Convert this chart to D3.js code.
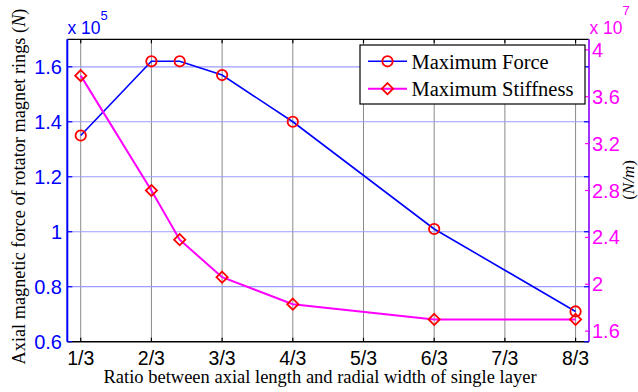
<!DOCTYPE html>
<html>
<head>
<meta charset="utf-8">
<script src="https://cdn.jsdelivr.net/npm/d3@7"></script>
<style>
  html, body { margin: 0; padding: 0; background: #fff; }
  svg { display: block; }
</style>
</head>
<body>
<div id="chart"></div>
<script>
// Ratio between axial length and radial width (in thirds)
const ratios = [1/3, 2/3, 0.8, 1, 4/3, 2, 8/3];
// Maximum axial force, x 10^5 N
const maxForce = [1.35, 1.62, 1.62, 1.57, 1.40, 1.01, 0.71];
// Maximum stiffness, x 10^7 N/m
const maxStiffness = [3.78, 2.80, 2.38, 2.06, 1.83, 1.70, 1.70];

const xTickValues = [1/3, 2/3, 1, 4/3, 5/3, 2, 7/3, 8/3];
const xTickLabels = ["1/3", "2/3", "3/3", "4/3", "5/3", "6/3", "7/3", "8/3"];
const leftTicks = [0.6, 0.8, 1.0, 1.2, 1.4, 1.6];
const leftTickLabels = ["0.6", "0.8", "1", "1.2", "1.4", "1.6"];
const rightTicks = [1.6, 2.0, 2.4, 2.8, 3.2, 3.6, 4.0];
const rightTickLabels = ["1.6", "2", "2.4", "2.8", "3.2", "3.6", "4"];
const seriesNames = ["Maximum Force", "Maximum Stiffness"];

const W = 638, H = 392;
const L = 67.3, R = 589, T = 39.3, B = 341.7;

const BLUE = "#0000ff", MAG = "#ff00ff", RED = "#ff0000", PURPLE = "#a030ff";
const SANS = "Arial, 'Liberation Sans', sans-serif";
const SERIF = "'Times New Roman', 'Liberation Serif', serif";

const svg = d3.select("#chart").append("svg")
  .attr("width", W).attr("height", H);

const x = d3.scaleLinear().domain([0.27, 2.73]).range([L, R]);
const yL = d3.scaleLinear().domain([0.6, 1.7]).range([B, T]);
const yR = d3.scaleLinear().domain([1.51, 4.09]).range([B, T]);

// grid
const grid = svg.append("g");
grid.selectAll("line.v").data(xTickValues).join("line")
  .attr("x1", d => x(d)).attr("x2", d => x(d))
  .attr("y1", T).attr("y2", B)
  .attr("stroke", "#8a8a8a").attr("stroke-width", 1);
grid.selectAll("line.h").data(leftTicks.slice(1)).join("line")
  .attr("x1", L).attr("x2", R)
  .attr("y1", d => yL(d)).attr("y2", d => yL(d))
  .attr("stroke", "#9c9cff").attr("stroke-width", 1.2);

// series lines
const lineF = d3.line().x((d, i) => x(ratios[i])).y(d => yL(d));
const lineS = d3.line().x((d, i) => x(ratios[i])).y(d => yR(d));
svg.append("path").attr("d", lineF(maxForce))
  .attr("fill", "none").attr("stroke", BLUE).attr("stroke-width", 1.6);
svg.append("path").attr("d", lineS(maxStiffness))
  .attr("fill", "none").attr("stroke", MAG).attr("stroke-width", 2);

function diamond(cx, cy, s) {
  return `M${cx},${cy - s}L${cx + s},${cy}L${cx},${cy + s}L${cx - s},${cy}Z`;
}

// markers
svg.selectAll("circle.mk").data(maxForce).join("circle")
  .attr("cx", (d, i) => x(ratios[i])).attr("cy", d => yL(d)).attr("r", 5.2)
  .attr("fill", "none").attr("stroke", RED).attr("stroke-width", 1.8);
svg.selectAll("path.mk").data(maxStiffness).join("path")
  .attr("d", (d, i) => diamond(x(ratios[i]), yR(d), 5.6))
  .attr("fill", "none").attr("stroke", RED).attr("stroke-width", 1.8);

// axes frame
const axes = svg.append("g");
// top border and ticks
axes.append("line").attr("x1", L).attr("x2", R).attr("y1", T).attr("y2", T)
  .attr("stroke", "#000").attr("stroke-width", 1.3);
axes.selectAll("line.tt").data(xTickValues).join("line")
  .attr("x1", d => x(d)).attr("x2", d => x(d)).attr("y1", T).attr("y2", T + 4)
  .attr("stroke", "#000").attr("stroke-width", 1.2);
// bottom axis
axes.append("line").attr("x1", L).attr("x2", R).attr("y1", B).attr("y2", B)
  .attr("stroke", "#000").attr("stroke-width", 1.6);
axes.selectAll("line.bt").data(xTickValues).join("line")
  .attr("x1", d => x(d)).attr("x2", d => x(d)).attr("y1", B).attr("y2", B - 4)
  .attr("stroke", "#000").attr("stroke-width", 1.2);
axes.selectAll("text.xt").data(xTickValues).join("text")
  .attr("x", d => x(d)).attr("y", 364.5)
  .attr("text-anchor", "middle")
  .attr("font-family", SANS).attr("font-size", 19.5).attr("fill", "#000")
  .text((d, i) => xTickLabels[i]);

// left axis
axes.append("line").attr("x1", L).attr("x2", L).attr("y1", T).attr("y2", B)
  .attr("stroke", BLUE).attr("stroke-width", 2);
axes.selectAll("line.lt").data(leftTicks).join("line")
  .attr("x1", L).attr("x2", L + 5).attr("y1", d => yL(d)).attr("y2", d => yL(d))
  .attr("stroke", BLUE).attr("stroke-width", 1.2);
axes.selectAll("text.lt").data(leftTicks).join("text")
  .attr("x", 62).attr("y", d => yL(d) + 7)
  .attr("text-anchor", "end")
  .attr("font-family", SANS).attr("font-size", 20).attr("fill", BLUE)
  .text((d, i) => leftTickLabels[i]);
const expL = axes.append("text").attr("x", 67.5).attr("y", 34)
  .attr("font-family", SANS).attr("font-size", 17.5).attr("fill", BLUE);
expL.append("tspan").text("x 10");
expL.append("tspan").attr("y", 20).attr("font-size", 13).text("5");

// right axis
axes.append("line").attr("x1", R).attr("x2", R).attr("y1", T).attr("y2", B)
  .attr("stroke", PURPLE).attr("stroke-width", 2);
axes.selectAll("line.rm").data(leftTicks).join("line")
  .attr("x1", R - 5).attr("x2", R).attr("y1", d => yL(d)).attr("y2", d => yL(d))
  .attr("stroke", BLUE).attr("stroke-width", 1.2);
axes.selectAll("line.rt").data(rightTicks).join("line")
  .attr("x1", R - 4).attr("x2", R).attr("y1", d => yR(d)).attr("y2", d => yR(d))
  .attr("stroke", MAG).attr("stroke-width", 1.2);
axes.selectAll("text.rt").data(rightTicks).join("text")
  .attr("x", 592).attr("y", d => yR(d) + 7)
  .attr("font-family", SANS).attr("font-size", 20).attr("fill", MAG)
  .text((d, i) => rightTickLabels[i]);
const expR = axes.append("text").attr("x", 589.5).attr("y", 34)
  .attr("font-family", SANS).attr("font-size", 17.5).attr("fill", MAG);
expR.append("tspan").text("x 10");
expR.append("tspan").attr("y", 15).attr("font-size", 13).text("7");

// axis titles
svg.append("text")
  .attr("transform", "translate(320,382.7)")
  .attr("text-anchor", "middle")
  .attr("font-family", SERIF).attr("font-size", 18.5).attr("fill", "#000")
  .text("Ratio between axial length and radial width of single layer");

const yTitle = svg.append("text")
  .attr("transform", "translate(24.5,186.5) rotate(-90)")
  .attr("text-anchor", "middle")
  .attr("font-family", SERIF).attr("font-size", 18.3).attr("fill", "#000");
yTitle.append("tspan").text("Axial magnetic force of rotator magnet rings (");
yTitle.append("tspan").attr("font-style", "italic").text("N");
yTitle.append("tspan").text(")");

const y2Title = svg.append("text")
  .attr("transform", "translate(633.5,180) rotate(-90)")
  .attr("text-anchor", "middle")
  .attr("font-family", SERIF).attr("font-size", 17).attr("fill", "#000");
y2Title.append("tspan").text("(");
y2Title.append("tspan").attr("font-style", "italic").text("N/m");
y2Title.append("tspan").text(")");

// legend
const lg = svg.append("g");
lg.append("rect").attr("x", 360).attr("y", 45).attr("width", 225).attr("height", 59)
  .attr("fill", "#fff").attr("stroke", "#000").attr("stroke-width", 1.2);
const rows = [
  { name: seriesNames[0], color: BLUE, y: 61.3, marker: "circle" },
  { name: seriesNames[1], color: MAG, y: 88.7, marker: "diamond" }
];
rows.forEach(r => {
  lg.append("line").attr("x1", 368).attr("x2", 407).attr("y1", r.y).attr("y2", r.y)
    .attr("stroke", r.color).attr("stroke-width", r.color === BLUE ? 1.6 : 2);
  if (r.marker === "circle") {
    lg.append("circle").attr("cx", 387.5).attr("cy", r.y).attr("r", 5.2)
      .attr("fill", "none").attr("stroke", RED).attr("stroke-width", 1.8);
  } else {
    lg.append("path").attr("d", diamond(387.5, r.y, 5.6))
      .attr("fill", "none").attr("stroke", RED).attr("stroke-width", 1.8);
  }
  lg.append("text").attr("x", 411.5).attr("y", r.y + 7.2)
    .attr("font-family", SERIF).attr("font-size", 20.5).attr("fill", "#000")
    .text(r.name);
});
</script>
</body>
</html>
